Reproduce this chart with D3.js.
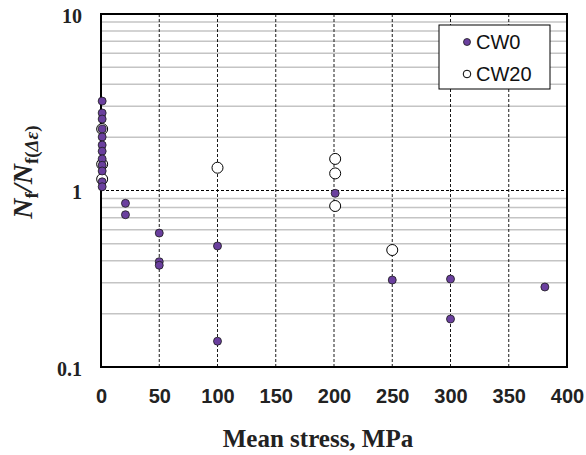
<!DOCTYPE html>
<html>
<head>
<meta charset="utf-8">
<script src="https://cdn.jsdelivr.net/npm/d3@7.9.0/dist/d3.min.js"></script>
<style>
  body { margin: 0; background: #fff; }
</style>
</head>
<body>
<svg id="chart" width="586" height="455"></svg>
<script>
// mean stress (MPa) and life ratio for each series
const cw0Stress = [1, 1, 1, 1, 1, 1, 1, 1, 1, 1, 1, 1, 21, 21, 50, 50, 50, 100, 100, 201, 250, 300, 300, 381];
const cw0Ratio = [3.21, 2.75, 2.54, 2.23, 2.01, 1.81, 1.67, 1.51, 1.39, 1.29, 1.12, 1.05, 0.846, 0.729, 0.574, 0.395, 0.377, 0.485, 0.140, 0.964, 0.311, 0.315, 0.187, 0.284];
const cw20Stress = [1, 1, 1, 100, 201, 201, 201, 250];
const cw20Ratio = [2.23, 1.41, 1.16, 1.346, 1.51, 1.25, 0.817, 0.46];
const xTicks = [0, 50, 100, 150, 200, 250, 300, 350, 400];
const yTicks = [0.1, 1, 10];
const yTickLabels = ["0.1", "1", "10"];
const seriesNames = ["CW0", "CW20"];

const svg = d3.select("#chart");
const margin = { top: 14, right: 19, bottom: 88, left: 101 };
const width = 586 - margin.left - margin.right;
const height = 455 - margin.top - margin.bottom;

const xScale = d3.scaleLinear().domain([0, 400]).range([0, width]);
const yScale = d3.scaleLog().domain([0.1, 10]).range([height, 0]);

const g = svg.append("g").attr("transform", `translate(${margin.left}, ${margin.top})`);

// minor log gridlines
const minor = yScale.ticks().filter(d => !yTicks.includes(d));
g.selectAll(".minor")
  .data(minor)
  .enter()
  .append("line")
  .attr("x1", 0)
  .attr("x2", width)
  .attr("y1", d => yScale(d))
  .attr("y2", d => yScale(d))
  .attr("stroke", "#c4c4c4")
  .attr("stroke-width", 1.5);

// vertical dashed gridlines
g.selectAll(".vgrid")
  .data(xTicks.slice(1, -1))
  .enter()
  .append("line")
  .attr("x1", d => xScale(d))
  .attr("x2", d => xScale(d))
  .attr("y1", 0)
  .attr("y2", height)
  .attr("stroke", "#000")
  .attr("stroke-width", 0.9)
  .attr("stroke-dasharray", "3,2");

// major horizontal dashed line at 1
g.append("line")
  .attr("x1", 0)
  .attr("x2", width)
  .attr("y1", yScale(1))
  .attr("y2", yScale(1))
  .attr("stroke", "#000")
  .attr("stroke-width", 1.2)
  .attr("stroke-dasharray", "3,2");

// frame
g.append("rect")
  .attr("width", width)
  .attr("height", height)
  .attr("fill", "none")
  .attr("stroke", "#000")
  .attr("stroke-width", 2);

// x axis labels
const xAxis = d3.axisBottom(xScale).tickValues(xTicks).tickSize(0).tickPadding(22);
const xg = g.append("g").attr("transform", `translate(0, ${height})`).call(xAxis);
xg.select(".domain").remove();
xg.selectAll("text")
  .style("font-family", "'Liberation Sans', Arial, sans-serif")
  .style("font-weight", "bold")
  .style("font-size", "20px")
  .attr("fill", "#222");

// y axis labels
const yAxis = d3.axisLeft(yScale).tickValues(yTicks).tickFormat((d, i) => yTickLabels[i]).tickSize(0).tickPadding(19);
const yg = g.append("g").call(yAxis);
yg.select(".domain").remove();
yg.selectAll("text")
  .attr("dy", "0.4em")
  .style("font-family", "'Liberation Serif', 'Times New Roman', serif")
  .style("font-weight", "bold")
  .style("font-size", "20px")
  .attr("fill", "#222");

// points: open series first, filled on top
const cw20 = cw20Stress.map((s, i) => ({ s: s, r: cw20Ratio[i] }));
const cw0 = cw0Stress.map((s, i) => ({ s: s, r: cw0Ratio[i] }));

g.selectAll(".cw20")
  .data(cw20)
  .enter()
  .append("circle")
  .attr("cx", d => xScale(d.s))
  .attr("cy", d => yScale(d.r))
  .attr("r", 5.5)
  .attr("fill", "#fff")
  .attr("stroke", "#000")
  .attr("stroke-width", 1);

g.selectAll(".cw0")
  .data(cw0)
  .enter()
  .append("circle")
  .attr("cx", d => xScale(d.s))
  .attr("cy", d => yScale(d.r))
  .attr("r", 4)
  .attr("fill", "#6a3f9e")
  .attr("stroke", "#1a1a1a")
  .attr("stroke-width", 0.8);

// legend
const legend = svg.append("g").attr("transform", "translate(439, 25)");
legend.append("rect")
  .attr("width", 111)
  .attr("height", 64)
  .attr("fill", "#fff")
  .attr("stroke", "#000")
  .attr("stroke-width", 1);

legend.append("circle")
  .attr("cx", 28).attr("cy", 17).attr("r", 3.5)
  .attr("fill", "#6a3f9e").attr("stroke", "#1a1a1a").attr("stroke-width", 0.8);
legend.append("circle")
  .attr("cx", 28).attr("cy", 49).attr("r", 3.8)
  .attr("fill", "#fff").attr("stroke", "#000").attr("stroke-width", 1);

legend.selectAll(".ltext")
  .data(seriesNames)
  .enter()
  .append("text")
  .attr("x", 37)
  .attr("y", (d, i) => 24 + i * 32)
  .style("font-family", "'Liberation Sans', Arial, sans-serif")
  .style("font-size", "20px")
  .attr("fill", "#111")
  .text(d => d);

// axis titles
svg.append("text")
  .attr("x", 318)
  .attr("y", 447)
  .attr("text-anchor", "middle")
  .style("font-family", "'Liberation Serif', 'Times New Roman', serif")
  .style("font-weight", "bold")
  .style("font-size", "25px")
  .attr("fill", "#222")
  .text("Mean stress, MPa");

const yTitle = svg.append("text")
  .attr("transform", "translate(32, 172) rotate(-90)")
  .attr("text-anchor", "middle")
  .style("font-family", "'Liberation Serif', 'Times New Roman', serif")
  .style("font-weight", "bold")
  .style("font-size", "28px")
  .attr("fill", "#222");
yTitle.append("tspan").style("font-style", "italic").text("N");
yTitle.append("tspan").attr("dy", 6).style("font-size", "19px").text("f");
yTitle.append("tspan").attr("dy", -6).style("font-style", "italic").text("/N");
yTitle.append("tspan").attr("dy", 6).style("font-size", "19px").text("f(");
yTitle.append("tspan").style("font-size", "19px").style("font-style", "italic").text("Δε");
yTitle.append("tspan").style("font-size", "19px").text(")");
</script>
</body>
</html>
